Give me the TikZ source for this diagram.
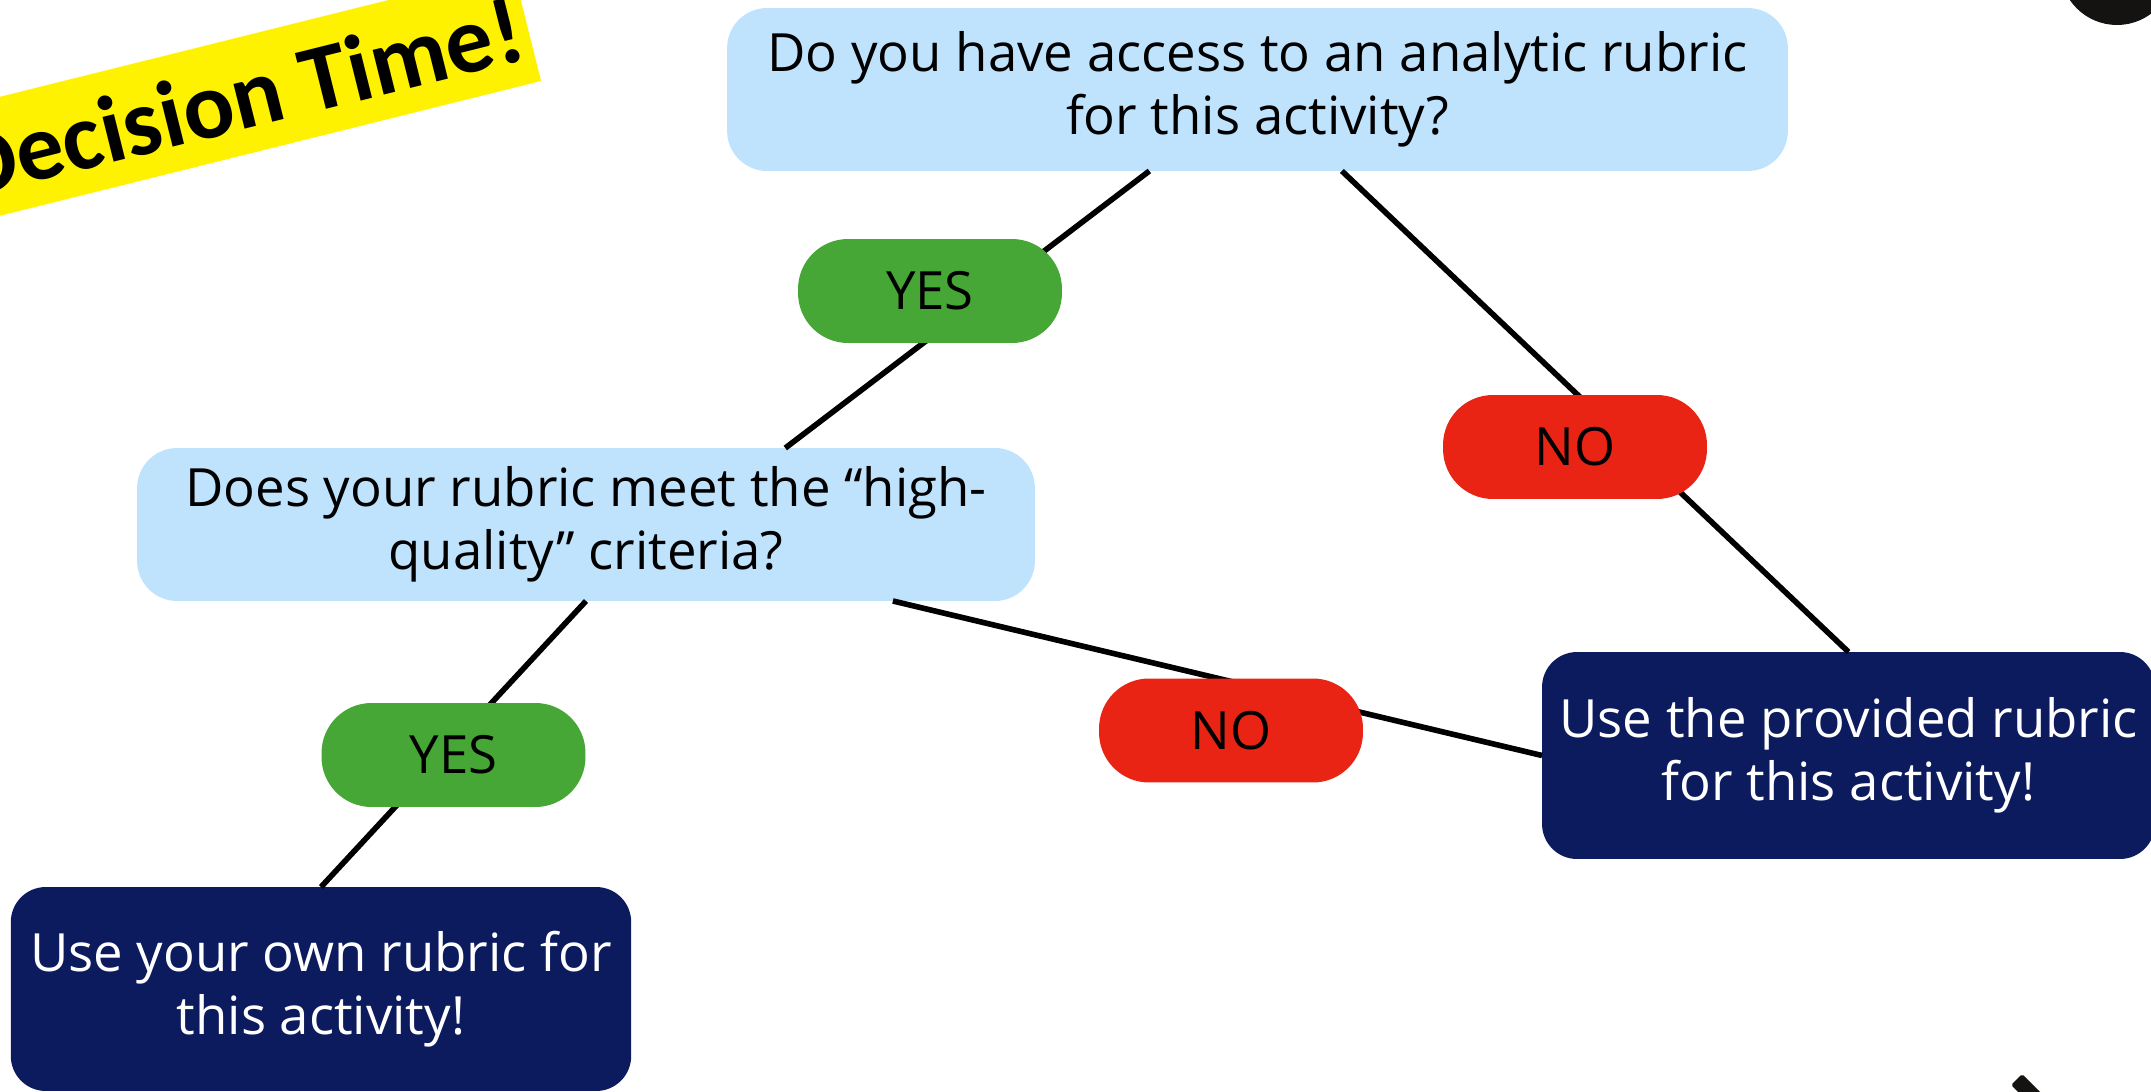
\documentclass[tikz,border=0pt]{standalone}
\usepackage{fontspec}
\setmainfont{Open Sans}
\newfontfamily\bannerfont{Carlito}
\definecolor{questionblue}{HTML}{BFE3FD}
\definecolor{yesgreen}{HTML}{46A736}
\definecolor{nored}{HTML}{E92414}
\definecolor{answernavy}{HTML}{0C1A5E}
\definecolor{cornerblack}{HTML}{141312}

\begin{document}
\begin{tikzpicture}[x=0.02cm, y=-0.02cm, line width=3.2pt,
                    box node/.style= {rectangle,
                      outer sep=0pt,
                      align=center,
                      font=\fontsize{30}{36}\selectfont},
                    question node/.style= {box node,
                      rounded corners=0.8cm,
                      fill=questionblue},
                    answer node/.style= {box node,
                      rounded corners=0.7cm,
                      fill=answernavy,
                      text=white},
                    yes node/.style= {box node,
                      rounded corners=1cm,
                      minimum width=5.28cm,
                      minimum height=2.08cm,
                      fill=yesgreen},
                    no node/.style= {yes node, fill=nored}]

  \useasboundingbox (0,0) rectangle (2151,1092);

  % banner
  \fill[yellow] (541,81) -- (513,-31) -- (-69,114) -- (-41,226) -- cycle;
  \node[rotate=14, anchor=base east, inner sep=0pt,
        font=\bannerfont\bfseries\fontsize{54}{54}\selectfont] (title) at (532,58) {Decision Time!};

  % corner bits
  \fill[cornerblack] (2117,-32) circle (1.14cm);
  \fill[cornerblack, rounded corners=1pt] (2022,1074) -- (2011,1085) -- (2041,1115) -- (2052,1104) -- cycle;

  \node[question node, minimum width=21.22cm, minimum height=3.26cm] (1) at (1257.5,89.5)
    {Do you have access to an analytic rubric\\for this activity?};
  \node[question node, minimum width=17.96cm, minimum height=3.06cm] (2) at (586,524.5)
    {Does your rubric meet the “high-\\quality” criteria?};
  \node[answer node, minimum width=12.41cm, minimum height=4.08cm] (3) at (321,989)
    {Use your own rubric for\\this activity!};
  \node[answer node, minimum width=12.26cm, minimum height=4.14cm] (4) at (1848.5,755.5)
    {Use the provided rubric\\for this activity!};

  \path
    (1.217) edge (2.21)
    (1.316) edge (4.north)
    (2.south) edge (3.north)
    (2.346) edge (4.west);

  \node[yes node] (5) at (930,291) {YES};
  \node[no node] (6) at (1575,447) {NO};
  \node[yes node] (7) at (453.5,755) {YES};
  \node[no node] (8) at (1231,730.5) {NO};
\end{tikzpicture}
\end{document}
